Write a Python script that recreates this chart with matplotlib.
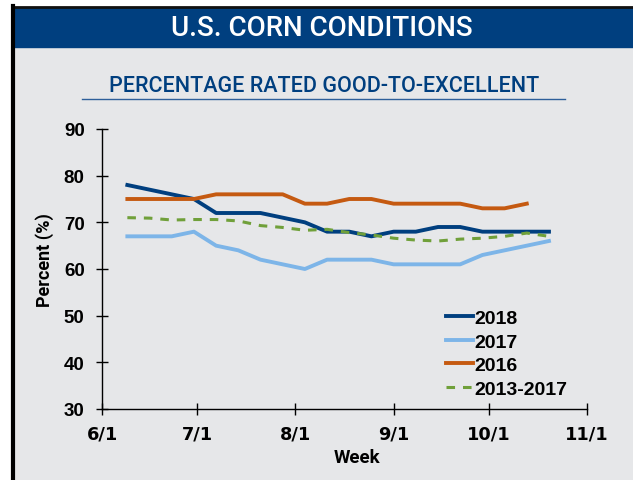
import matplotlib
matplotlib.use("Agg")
import matplotlib.pyplot as plt
import matplotlib.dates as mdates
import pandas as pd
from matplotlib.lines import Line2D
from matplotlib.patches import Rectangle

# weekly condition reports, plotted on a common calendar year
weeks = ["6/9", "6/16", "6/23", "6/30", "7/7", "7/14", "7/21", "7/28",
         "8/4", "8/11", "8/18", "8/25", "9/1", "9/8", "9/15", "9/22",
         "9/29", "10/6", "10/13", "10/20"]

ge_2018 = [78, 77, 76, 75, 72, 72, 72, 71, 70, 68, 68, 67, 68, 68, 69, 69,
           68, 68, 68, 68]
ge_2017 = [67, 67, 67, 68, 65, 64, 62, 61, 60, 62, 62, 62, 61, 61, 61, 61,
           63, 64, 65, 66]
ge_2016 = [75, 75, 75, 75, 76, 76, 76, 76, 74, 74, 75, 75, 74, 74, 74, 74,
           73, 73, 74]
ge_avg = [71.0, 70.9, 70.5, 70.6, 70.6, 70.3, 69.3, 68.9, 68.3, 68.5, 67.8,
          67.3, 66.6, 66.2, 66.0, 66.4, 66.6, 67.0, 67.7, 67.0]

month_ticks = ["6/1", "7/1", "8/1", "9/1", "10/1", "11/1"]
y_ticks = [30, 40, 50, 60, 70, 80, 90]

dates = pd.to_datetime(["2018/" + w for w in weeks])
tick_dates = pd.to_datetime(["2018/" + m for m in month_ticks])

navy = "#003f7f"
bg = "#e6e7e9"
narrow = ["Roboto", "DejaVu Sans"]

fig = plt.figure(figsize=(6.33, 4.81), dpi=100)
fig.patch.set_facecolor("white")

# panel frame, header bar and border
fig.patches.append(Rectangle((13 / 633, 0), 1, (481 - 9) / 481,
                             transform=fig.transFigure, color=bg, zorder=-3))
fig.patches.append(Rectangle((13 / 633, (481 - 48) / 481), 1, 39 / 481,
                             transform=fig.transFigure, color=navy, zorder=-2))
fig.add_artist(Line2D([13 / 633, 1], [(481 - 8) / 481] * 2, color="#111111",
                      lw=2, transform=fig.transFigure))
fig.add_artist(Line2D([13 / 633] * 2, [0, (481 - 7) / 481], color="black",
                      lw=3, transform=fig.transFigure))

fig.text(322 / 633, (481 - 29) / 481, "U.S. CORN CONDITIONS", color="white",
         fontsize=20, family=narrow, fontweight="medium", ha="center", va="center")
fig.text(324 / 633, (481 - 87) / 481, "PERCENTAGE RATED GOOD-TO-EXCELLENT",
         color=navy, fontsize=15.5, family=narrow, fontweight="medium",
         ha="center", va="center")
fig.add_artist(Line2D([82 / 633, 565 / 633], [(481 - 100) / 481] * 2,
                      color="#2e5f9a", lw=1, transform=fig.transFigure))

ax = fig.add_axes([102 / 633, (481 - 410) / 481, 485 / 633, 280 / 481])
ax.set_facecolor("none")

ax.plot(dates, ge_2018, color=navy, lw=2.8, label="2018")
ax.plot(dates, ge_2017, color="#7db5e8", lw=2.8, label="2017")
ax.plot(dates[:len(ge_2016)], ge_2016, color="#c55a11", lw=2.8, label="2016")
ax.plot(dates, ge_avg, color="#70a03a", lw=2.2, ls=(0, (2.8, 2.6)),
        label="2013-2017")

ax.set_xlim(tick_dates[0], tick_dates[-1])
ax.set_ylim(30, 90)
ax.set_xticks(tick_dates)
ax.xaxis.set_major_formatter(mdates.DateFormatter("%-m/%-d"))
ax.set_yticks(y_ticks)

for s in ["top", "right"]:
    ax.spines[s].set_visible(False)
for s in ["left", "bottom"]:
    ax.spines[s].set_linewidth(1.0)
ax.tick_params(axis="both", direction="inout", length=8, width=1, colors="black")
ax.tick_params(axis="x", pad=7.5)
ax.tick_params(axis="y", pad=8.5)

for lbl in ax.get_xticklabels():
    lbl.set_fontfamily("DejaVu Sans")
    lbl.set_fontweight("bold")
    lbl.set_fontsize(12.8)
for lbl in ax.get_yticklabels():
    lbl.set_fontfamily("Liberation Sans")
    lbl.set_fontweight("bold")
    lbl.set_fontsize(13.5)

ax.set_xlabel("Week", family=narrow, fontweight="bold", fontsize=13.5)
ax.set_ylabel("Percent (%)", family=narrow, fontweight="bold", fontsize=13)
ax.xaxis.set_label_coords(0.526, -0.171)
ax.yaxis.set_label_coords(-0.1175, 0.536)
ax.xaxis.label.set_va("center")
ax.yaxis.label.set_va("center")

leg = ax.legend(loc="lower right", bbox_to_anchor=(0.984, -0.001), frameon=False,
                handlelength=1.35, handletextpad=0.1, labelspacing=0.3,
                borderaxespad=0.2,
                prop={"family": "Liberation Sans", "weight": "bold", "size": 14})

fig.savefig("out.png", dpi=100, facecolor=fig.get_facecolor())
